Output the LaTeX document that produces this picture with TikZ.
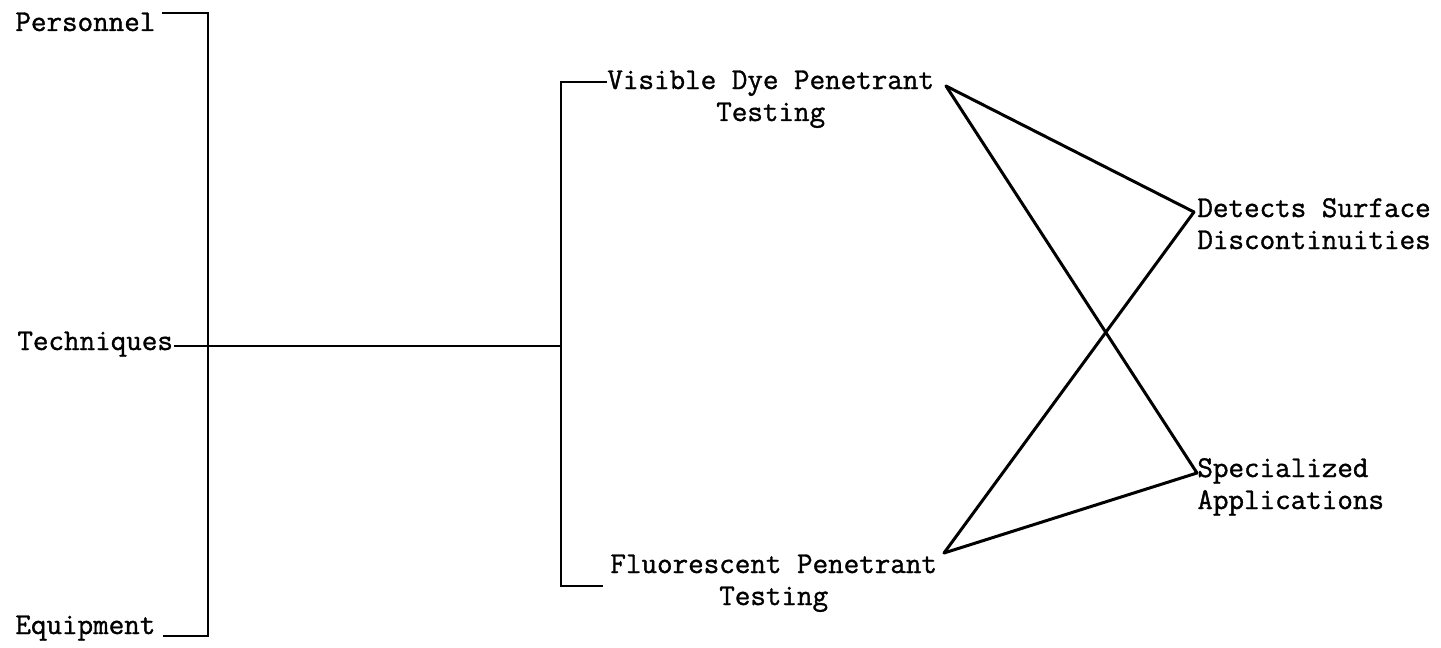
\documentclass[tikz,border=0pt]{standalone}
\usepackage{fontspec}
\setmonofont{Latin Modern Mono}[FakeBold=1.2]
\newcommand\twoc[2]{\vtop{\halign{\hfil##\hfil\cr#1\cr#2\cr}}}
\newcommand\twol[2]{\vtop{\halign{##\hfil\cr#1\cr#2\cr}}}
\begin{document}
\begin{tikzpicture}[x=0.5pt,y=-0.5pt,
  lbl/.style={inner sep=0pt, font=\fontsize{15.1}{16}\selectfont\ttfamily},
  brk/.style={line width=1.3pt},
  dia/.style={line width=1.5pt, line cap=round}]
\useasboundingbox (0,0) rectangle (1441,648);
% text nodes
\node[lbl,anchor=base west] (pers) at (15,31) {Personnel};
\node[lbl,anchor=base west] (tech) at (17,350) {Techniques};
\node[lbl,anchor=base west] (equip) at (15,634) {Equipment};
\node[lbl,anchor=base west] (vis) at (607,89) {\twoc{Visible Dye Penetrant}{Testing}};
\node[lbl,anchor=base west] (flu) at (610,573) {\twoc{Fluorescent Penetrant}{Testing}};
\node[lbl,anchor=base west] (det) at (1197,217) {\twol{Detects Surface}{Discontinuities}};
\node[lbl,anchor=base west] (spe) at (1197,477) {\twol{Specialized}{Applications}};
% junction points
\coordinate (p0) at (162,13);
\coordinate (pj) at (208,13);
\coordinate (ej) at (208,636);
\coordinate (e0) at (163,636);
\coordinate (t0) at (174,346);
\coordinate (tj) at (561,346);
\coordinate (vj) at (561,82);
\coordinate (fj) at (561,586);
\coordinate (fe) at (603,586);
\coordinate (vR) at (946,86);
\coordinate (fR) at (944,553);
\coordinate (dL) at (1194,212);
\coordinate (sL) at (1197,473);
% brackets
\draw[brk] (p0) -- (pj) -- (ej) -- (e0);
\draw[brk] (t0) -- (tj);
\draw[brk] (vis.west |- vj) -- (vj) -- (fj) -- (fe);
% crossing connectors
\draw[dia] (vR) -- (dL);
\draw[dia] (vR) -- (sL);
\draw[dia] (fR) -- (dL);
\draw[dia] (fR) -- (sL);
\end{tikzpicture}
\end{document}
